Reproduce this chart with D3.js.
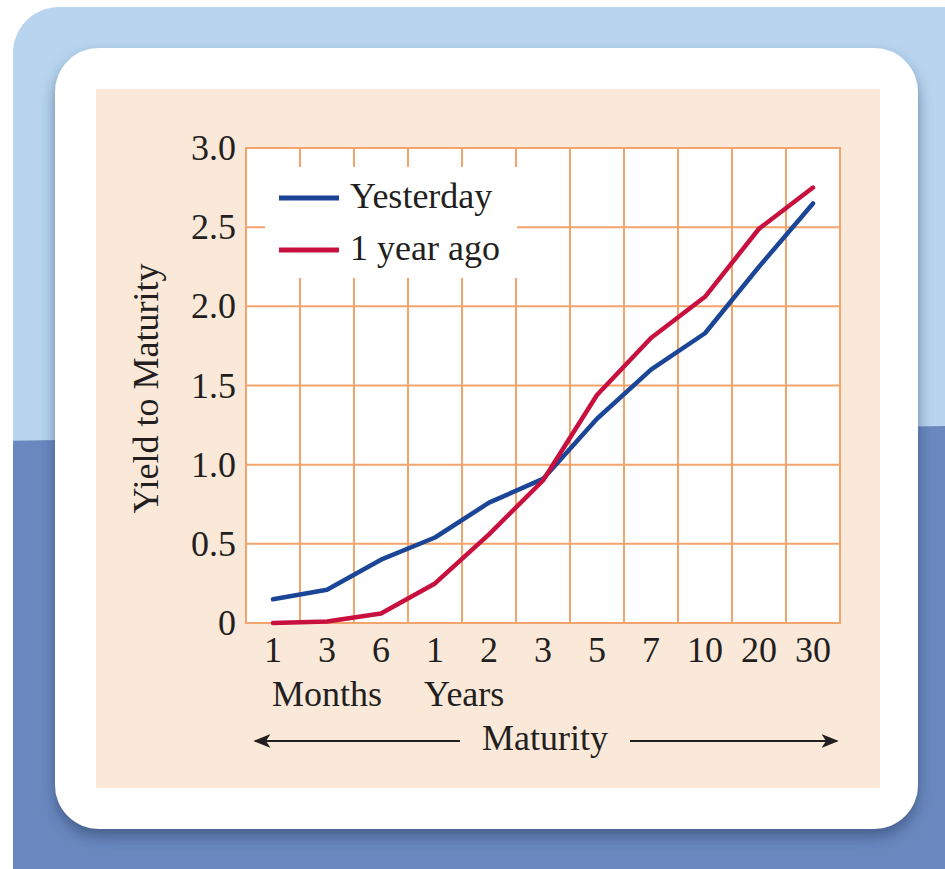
<!DOCTYPE html>
<html>
<head>
<meta charset="utf-8">
<script src="https://cdn.jsdelivr.net/npm/d3@7"></script>
<style>
  body { margin: 0; background: #ffffff; }
  svg text { font-family: "Liberation Serif", "Times New Roman", serif; fill: #231f20; }
</style>
</head>
<body>
<div id="chart"></div>
<script>
// maturities (keys) and the labels printed under them
var maturities = ["1M", "3M", "6M", "1Y", "2Y", "3Y", "5Y", "7Y", "10Y", "20Y", "30Y"];
var tickLabels = ["1", "3", "6", "1", "2", "3", "5", "7", "10", "20", "30"];
// yields
var yesterday = [0.15, 0.21, 0.40, 0.54, 0.76, 0.91, 1.29, 1.60, 1.83, 2.25, 2.65];
var yearAgo   = [0.00, 0.01, 0.06, 0.25, 0.56, 0.90, 1.44, 1.80, 2.06, 2.49, 2.75];
var yTicks = [0, 0.5, 1.0, 1.5, 2.0, 2.5, 3.0];
var seriesNames = ["Yesterday", "1 year ago"];

var W = 945, H = 869;
var fs = 36;
var svg = d3.select("#chart").append("svg")
    .attr("width", W)
    .attr("height", H);

var defs = svg.append("defs");
var shadow = defs.append("filter").attr("id", "shadow")
    .attr("x", "-10%").attr("y", "-10%").attr("width", "120%").attr("height", "125%");
shadow.append("feDropShadow")
    .attr("dx", 0).attr("dy", 8).attr("stdDeviation", 7)
    .attr("flood-color", "#2c3f66").attr("flood-opacity", 0.55);

defs.append("marker").attr("id", "arrow")
    .attr("viewBox", "0 0 10 10").attr("refX", 9).attr("refY", 5)
    .attr("markerWidth", 8.5).attr("markerHeight", 8.5)
    .attr("orient", "auto-start-reverse")
    .append("path").attr("d", "M0,1 L10,5 L0,9 L2.5,5 Z").attr("fill", "#231f20");

// backdrop: light blue frame, darker blue lower half
var clip = defs.append("clipPath").attr("id", "frameClip");
clip.append("rect").attr("x", 13).attr("y", 7).attr("width", 1000).attr("height", 1000).attr("rx", 46);
var frame = svg.append("g").attr("clip-path", "url(#frameClip)");
frame.append("rect").attr("x", 0).attr("y", 0).attr("width", W).attr("height", H).attr("fill", "#b8d4ee");
frame.append("polygon")
    .attr("points", "0,441 " + W + ",426 " + W + "," + H + " 0," + H)
    .attr("fill", "#6a88bf");

// white card + beige panel
svg.append("rect")
    .attr("x", 55).attr("y", 48).attr("width", 863).attr("height", 781).attr("rx", 44)
    .attr("fill", "#ffffff").attr("filter", "url(#shadow)");
svg.append("rect")
    .attr("x", 96).attr("y", 89).attr("width", 784).attr("height", 699)
    .attr("fill", "#fae8d8");

var plot = {left: 246, top: 148, right: 840, bottom: 623};

var x = d3.scaleBand()
    .domain(maturities)
    .range([plot.left, plot.right])
    .padding(0);

var y = d3.scaleLinear()
    .domain([0, 3])
    .range([plot.bottom, plot.top]);

var cx = function (d) { return x(d) + x.bandwidth() / 2; };

var g = svg.append("g");

// plot background
g.append("rect")
    .attr("x", plot.left).attr("y", plot.top)
    .attr("width", plot.right - plot.left).attr("height", plot.bottom - plot.top)
    .attr("fill", "#ffffff");

// grid
var gridColor = "#f3a46c";
g.selectAll(".vgrid")
    .data(maturities.slice(1))
    .enter().append("line")
    .attr("class", "vgrid")
    .attr("x1", function (d) { return x(d); })
    .attr("x2", function (d) { return x(d); })
    .attr("y1", plot.top).attr("y2", plot.bottom)
    .attr("stroke", gridColor).attr("stroke-width", 2);
g.selectAll(".hgrid")
    .data(yTicks.slice(1, -1))
    .enter().append("line")
    .attr("class", "hgrid")
    .attr("x1", plot.left).attr("x2", plot.right)
    .attr("y1", function (d) { return y(d); })
    .attr("y2", function (d) { return y(d); })
    .attr("stroke", gridColor).attr("stroke-width", 2);
g.append("rect")
    .attr("x", plot.left).attr("y", plot.top)
    .attr("width", plot.right - plot.left).attr("height", plot.bottom - plot.top)
    .attr("fill", "none").attr("stroke", gridColor).attr("stroke-width", 2);

// legend box covers the grid
var legend = g.append("g");
legend.append("rect")
    .attr("x", 265).attr("y", 167).attr("width", 252).attr("height", 111)
    .attr("fill", "#ffffff");

// y tick labels
svg.selectAll(".ytick")
    .data(yTicks)
    .enter().append("text")
    .attr("class", "ytick")
    .attr("x", plot.left - 10)
    .attr("y", function (d) { return y(d) + 12; })
    .attr("text-anchor", "end")
    .attr("font-size", fs)
    .text(function (d) { return d === 0 ? "0" : d.toFixed(1); });

// x tick labels
svg.selectAll(".xtick")
    .data(maturities)
    .enter().append("text")
    .attr("class", "xtick")
    .attr("x", function (d) { return cx(d); })
    .attr("y", plot.bottom + 39)
    .attr("text-anchor", "middle")
    .attr("font-size", fs)
    .text(function (d, i) { return tickLabels[i]; });

svg.append("text")
    .attr("x", cx("3M")).attr("y", 706)
    .attr("text-anchor", "middle").attr("font-size", fs)
    .text("Months");
svg.append("text")
    .attr("x", cx("1Y") - 11).attr("y", 706)
    .attr("text-anchor", "start").attr("font-size", fs)
    .text("Years");

// Maturity with arrows
var midX = (plot.left + plot.right) / 2;
svg.append("text")
    .attr("x", midX + 2).attr("y", 750)
    .attr("text-anchor", "middle").attr("font-size", fs)
    .text("Maturity");
svg.append("line")
    .attr("x1", 460).attr("x2", 255).attr("y1", 741).attr("y2", 741)
    .attr("stroke", "#231f20").attr("stroke-width", 2).attr("marker-end", "url(#arrow)");
svg.append("line")
    .attr("x1", 630).attr("x2", 837).attr("y1", 741).attr("y2", 741)
    .attr("stroke", "#231f20").attr("stroke-width", 2).attr("marker-end", "url(#arrow)");

// y title
svg.append("text")
    .attr("transform", "translate(158," + ((plot.top + plot.bottom) / 2 + 3) + ") rotate(-90)")
    .attr("text-anchor", "middle").attr("font-size", fs)
    .text("Yield to Maturity");

// lines
var colors = ["#1b4596", "#c8103e"];
var line = d3.line()
    .x(function (d) { return cx(d[0]); })
    .y(function (d) { return y(d[1]); });

[yesterday, yearAgo].forEach(function (vals, i) {
    g.append("path")
        .attr("d", line(d3.zip(maturities, vals)))
        .attr("fill", "none")
        .attr("stroke", colors[i])
        .attr("stroke-width", 4.5)
        .attr("stroke-linejoin", "round")
        .attr("stroke-linecap", "round");
});

// legend entries
seriesNames.forEach(function (name, i) {
    var ly = 198 + i * 52;
    legend.append("line")
        .attr("x1", 279).attr("x2", 339).attr("y1", ly).attr("y2", ly)
        .attr("stroke", colors[i]).attr("stroke-width", 5);
    legend.append("text")
        .attr("x", 350).attr("y", ly + 10)
        .attr("font-size", fs)
        .text(name);
});
</script>
</body>
</html>
